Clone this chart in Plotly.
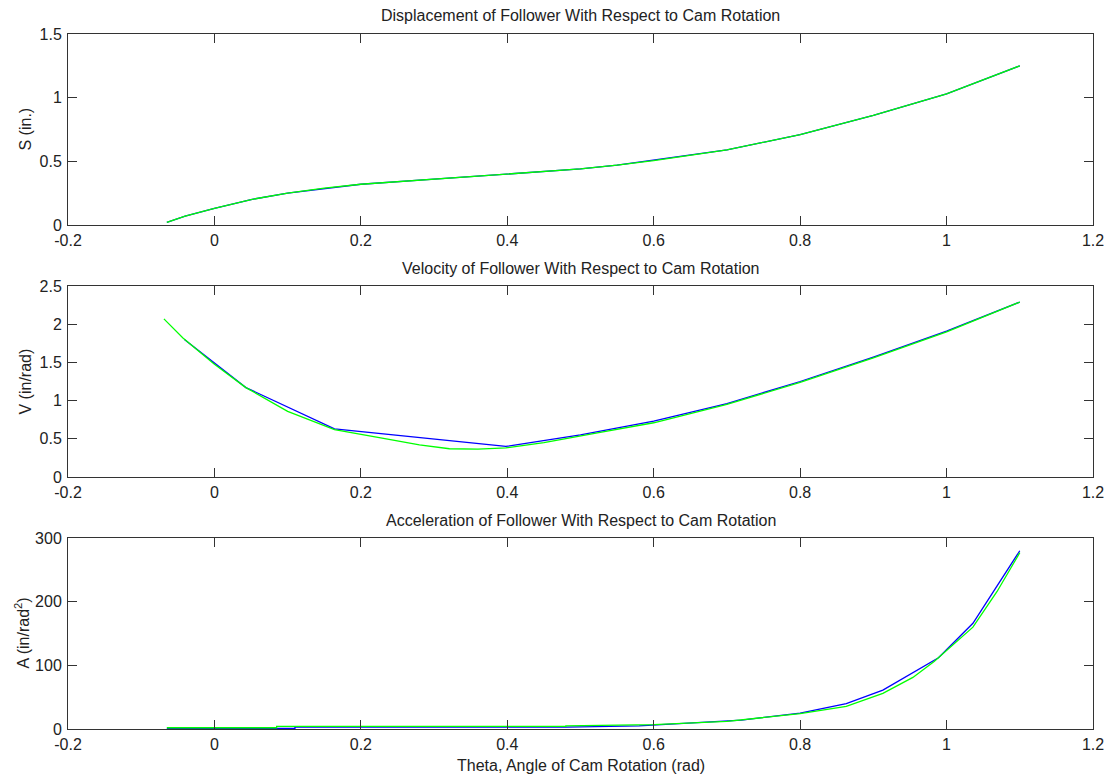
import plotly.graph_objects as go

# Displacement
s_theta_blue = [-0.065, -0.04, 0.0, 0.05, 0.1, 0.17, 0.2, 0.3, 0.4, 0.5, 0.55, 0.6, 0.7, 0.8, 0.9, 1.0, 1.1]
s_blue = [0.02, 0.07, 0.13, 0.2, 0.25, 0.3, 0.32, 0.36, 0.4, 0.44, 0.47, 0.51, 0.59, 0.71, 0.86, 1.03, 1.25]
s_theta_green = [-0.065, -0.04, 0.0, 0.05, 0.1, 0.15, 0.2, 0.3, 0.4, 0.5, 0.55, 0.6, 0.7, 0.8, 0.9, 1.0, 1.1]
s_green = [0.02, 0.07, 0.13, 0.2, 0.25, 0.29, 0.32, 0.36, 0.4, 0.44, 0.47, 0.505, 0.59, 0.71, 0.86, 1.03, 1.25]

# Velocity
v_theta_blue = [-0.041, 0.043, 0.164, 0.398, 0.5, 0.6, 0.7, 0.8, 0.9, 1.0, 1.1]
v_blue = [1.8, 1.17, 0.63, 0.40, 0.55, 0.73, 0.96, 1.25, 1.57, 1.91, 2.29]
v_theta_green = [-0.069, -0.043, 0.0, 0.043, 0.1, 0.164, 0.229, 0.28, 0.321, 0.36, 0.398, 0.45, 0.525, 0.6, 0.7, 0.8, 0.9, 1.0, 1.1]
v_green = [2.07, 1.82, 1.475, 1.17, 0.86, 0.62, 0.51, 0.42, 0.37, 0.365, 0.38, 0.45, 0.58, 0.71, 0.95, 1.24, 1.56, 1.9, 2.29]

# Acceleration
a_theta_blue = [-0.065, 0.085, 0.085, 0.11, 0.11, 0.48, 0.58, 0.65, 0.72, 0.8, 0.863, 0.913, 0.989, 1.036, 1.1]
a_blue = [1, 1, 1, 1, 3, 3, 5, 9, 14, 25, 40, 61, 112, 166, 280]
a_theta_green = [-0.065, 0.085, 0.085, 0.48, 0.48, 0.6, 0.7, 0.8, 0.863, 0.913, 0.954, 0.983, 1.036, 1.069, 1.1]
a_green = [2, 2, 4, 4, 5, 7, 12, 24, 35.5, 56, 81, 106, 160, 216, 277]

titles = ["Displacement of Follower With Respect to Cam Rotation",
          "Velocity of Follower With Respect to Cam Rotation",
          "Acceleration of Follower With Respect to Cam Rotation"]
ylabels = ["S (in.)", "V (in/rad)", "A (in/rad<sup>2</sup>)"]
xlabel = "Theta, Angle of Cam Rotation (rad)"

W, H = 1114, 777
x0, x1 = 68, 1093
panels = [(34, 225), (286, 477), (538, 729)]
ylabel_x = [25, 25, 22]
yranges = [[0, 1.5], [0, 2.5], [0, 300]]
ytickvals = [[0, 0.5, 1, 1.5], [0, 0.5, 1, 1.5, 2, 2.5], [0, 100, 200, 300]]
ytexts = [["0", "0.5", "1", "1.5"], ["0", "0.5", "1", "1.5", "2", "2.5"], ["0", "100", "200", "300"]]
xtickvals = [-0.2, 0, 0.2, 0.4, 0.6, 0.8, 1, 1.2]
xtexts = ["-0.2", "0", "0.2", "0.4", "0.6", "0.8", "1", "1.2"]


def px(x):
    return x / W


def py(y):
    return 1 - y / H


fig = go.Figure()
series = [(s_theta_blue, s_blue, s_theta_green, s_green),
          (v_theta_blue, v_blue, v_theta_green, v_green),
          (a_theta_blue, a_blue, a_theta_green, a_green)]

font = "Liberation Sans, Arial, sans-serif"
FS = 16
for i, (tb, yb, tg, yg) in enumerate(series):
    xa = "x" if i == 0 else f"x{i+1}"
    ya = "y" if i == 0 else f"y{i+1}"
    fig.add_trace(go.Scatter(x=tb, y=yb, mode="lines", line=dict(color="#0000FF", width=1.3),
                             xaxis=xa, yaxis=ya, showlegend=False))
    fig.add_trace(go.Scatter(x=tg, y=yg, mode="lines", line=dict(color="#00FF00", width=1.3),
                             xaxis=xa, yaxis=ya, showlegend=False))
    top, bot = panels[i]
    axcommon = dict(showline=True, linecolor="#333333", linewidth=1, mirror="ticks",
                    ticks="inside", ticklen=9, tickcolor="#333333", showgrid=False,
                    zeroline=False, automargin=False,
                    tickfont=dict(family=font, size=FS, color="#222222"))
    fig.layout[f"xaxis{'' if i == 0 else i+1}"] = dict(
        domain=[px(x0), px(x1)], range=[-0.2, 1.2], anchor=ya,
        tickvals=xtickvals, ticktext=xtexts, ticklabelstandoff=1, **axcommon)
    fig.layout[f"yaxis{'' if i == 0 else i+1}"] = dict(
        domain=[py(bot), py(top)], range=yranges[i], anchor=xa,
        tickvals=ytickvals[i], ticktext=ytexts[i], ticklabelstandoff=2, **axcommon)
    fig.add_annotation(text=titles[i], x=px((x0 + x1) / 2), y=py(top - 18),
                       xref="paper", yref="paper", showarrow=False,
                       xanchor="center", yanchor="middle",
                       font=dict(family=font, size=FS, color="#222222"))
    fig.add_annotation(text=ylabels[i], x=px(ylabel_x[i]), y=py((top + bot) / 2),
                       xref="paper", yref="paper", showarrow=False, textangle=-90,
                       xanchor="center", yanchor="middle",
                       font=dict(family=font, size=FS, color="#222222"))

fig.add_annotation(text=xlabel, x=px((x0 + x1) / 2), y=py(765),
                   xref="paper", yref="paper", showarrow=False,
                   xanchor="center", yanchor="middle",
                   font=dict(family=font, size=FS, color="#222222"))

fig.update_layout(width=W, height=H, margin=dict(l=0, r=0, t=0, b=0),
                  paper_bgcolor="white", plot_bgcolor="white")
fig.write_html("out.html", config={"displayModeBar": False},
               post_script="document.body.style.margin='0';document.body.style.overflow='hidden';")
